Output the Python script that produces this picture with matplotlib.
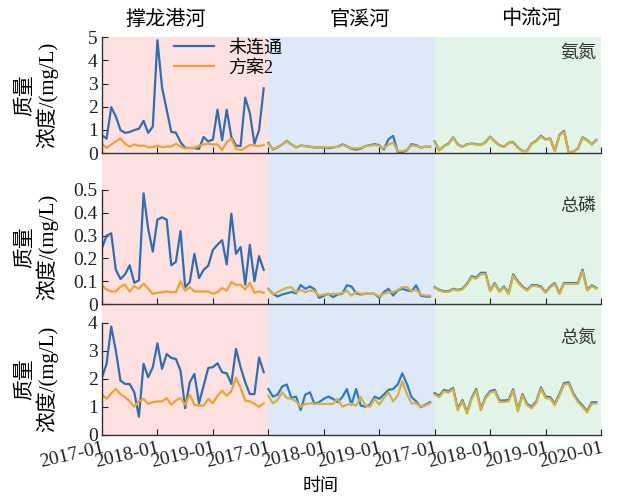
import matplotlib
matplotlib.use('Agg')
import matplotlib.pyplot as plt
import numpy as np

plt.rcParams['font.family'] = ['Liberation Serif', 'Noto Sans CJK SC']
plt.rcParams['axes.unicode_minus'] = False

rivers = ['撑龙港河', '官溪河', '中流河']
tick_labels = ['2017-01', '2018-01', '2019-01', '2017-01', '2018-01', '2019-01',
               '2017-01', '2018-01', '2019-01', '2020-01']

# 氨氮 (mg/L), 36 months per river
nh3_base_1 = [0.77, 0.62, 1.98, 1.58, 0.99, 0.87, 0.91, 0.99, 1.05, 1.39, 0.87, 1.14,
              4.87, 2.83, 1.87, 0.91, 0.88, 0.47, 0.22, 0.22, 0.21, 0.18, 0.69, 0.50,
              0.58, 1.87, 0.55, 1.87, 0.69, 0.32, 0.30, 2.39, 1.73, 0.40, 0.99, 2.79]
nh3_plan_1 = [0.40, 0.22, 0.37, 0.50, 0.62, 0.40, 0.28, 0.37, 0.31, 0.32, 0.25, 0.25,
              0.32, 0.25, 0.28, 0.28, 0.40, 0.28, 0.19, 0.22, 0.22, 0.32, 0.37, 0.40,
              0.37, 0.37, 0.13, 0.47, 0.62, 0.18, 0.13, 0.22, 0.35, 0.32, 0.30, 0.35]
nh3_base_2 = [0.44, 0.15, 0.24, 0.37, 0.52, 0.37, 0.24, 0.32, 0.30, 0.27, 0.24, 0.24,
              0.24, 0.21, 0.24, 0.27, 0.37, 0.30, 0.18, 0.15, 0.19, 0.30, 0.34, 0.38,
              0.34, 0.15, 0.59, 0.74, 0.06, 0.03, 0.12, 0.38, 0.34, 0.24, 0.27, 0.27]
nh3_plan_2 = [0.40, 0.17, 0.25, 0.36, 0.50, 0.36, 0.25, 0.32, 0.29, 0.27, 0.26, 0.24,
              0.25, 0.24, 0.25, 0.27, 0.34, 0.30, 0.21, 0.20, 0.22, 0.29, 0.32, 0.34,
              0.32, 0.20, 0.36, 0.45, 0.09, 0.08, 0.14, 0.33, 0.31, 0.25, 0.27, 0.28]
nh3_base_3 = [0.50, 0.12, 0.30, 0.41, 0.68, 0.38, 0.27, 0.38, 0.41, 0.38, 0.35, 0.47,
              0.71, 0.50, 0.34, 0.27, 0.44, 0.47, 0.24, 0.09, 0.09, 0.41, 0.53, 0.74,
              0.59, 0.63, 0.09, 0.78, 0.96, 0.03, 0.06, 0.19, 0.68, 0.56, 0.38, 0.56]
nh3_plan_3 = [0.48, 0.11, 0.29, 0.39, 0.66, 0.36, 0.26, 0.37, 0.39, 0.37, 0.34, 0.45,
              0.69, 0.48, 0.33, 0.26, 0.42, 0.45, 0.23, 0.08, 0.08, 0.39, 0.51, 0.71,
              0.57, 0.61, 0.08, 0.75, 0.92, 0.03, 0.05, 0.18, 0.65, 0.54, 0.37, 0.54]

# 总磷 (mg/L)
tp_base_1 = [0.245, 0.30, 0.31, 0.15, 0.11, 0.13, 0.17, 0.093, 0.104, 0.485, 0.33, 0.23,
             0.37, 0.38, 0.37, 0.17, 0.185, 0.32, 0.074, 0.096, 0.22, 0.114, 0.15, 0.168,
             0.237, 0.26, 0.28, 0.174, 0.396, 0.22, 0.25, 0.085, 0.26, 0.10, 0.21, 0.15]
tp_plan_1 = [0.080, 0.064, 0.055, 0.055, 0.077, 0.085, 0.055, 0.079, 0.067, 0.089, 0.067, 0.045,
             0.049, 0.052, 0.055, 0.052, 0.052, 0.100, 0.059, 0.074, 0.055, 0.055, 0.055, 0.055,
             0.045, 0.052, 0.070, 0.059, 0.096, 0.085, 0.085, 0.064, 0.093, 0.049, 0.055, 0.049]
tp_base_2 = [0.067, 0.045, 0.033, 0.042, 0.047, 0.053, 0.047, 0.083, 0.067, 0.077, 0.065, 0.027,
             0.036, 0.045, 0.030, 0.042, 0.045, 0.082, 0.077, 0.047, 0.042, 0.045, 0.045, 0.045,
             0.027, 0.052, 0.067, 0.037, 0.060, 0.067, 0.060, 0.056, 0.082, 0.037, 0.033, 0.033]
tp_plan_2 = [0.067, 0.042, 0.052, 0.062, 0.071, 0.074, 0.052, 0.062, 0.052, 0.059, 0.056, 0.037,
             0.042, 0.042, 0.045, 0.045, 0.047, 0.059, 0.037, 0.053, 0.045, 0.045, 0.045, 0.045,
             0.033, 0.045, 0.052, 0.052, 0.062, 0.074, 0.074, 0.056, 0.062, 0.042, 0.037, 0.037]
tp_base_3 = [0.074, 0.062, 0.056, 0.056, 0.067, 0.062, 0.067, 0.089, 0.122, 0.116, 0.137, 0.137,
             0.059, 0.092, 0.056, 0.077, 0.047, 0.130, 0.100, 0.077, 0.062, 0.083, 0.083, 0.077,
             0.052, 0.077, 0.092, 0.047, 0.092, 0.092, 0.092, 0.092, 0.151, 0.062, 0.082, 0.071]
tp_plan_3 = [0.071, 0.059, 0.053, 0.053, 0.064, 0.059, 0.064, 0.085, 0.117, 0.111, 0.131, 0.131,
             0.056, 0.088, 0.053, 0.073, 0.044, 0.124, 0.095, 0.073, 0.059, 0.079, 0.079, 0.073,
             0.049, 0.073, 0.088, 0.044, 0.088, 0.088, 0.088, 0.088, 0.144, 0.059, 0.078, 0.068]

# 总氮 (mg/L)
tn_base_1 = [2.06, 2.54, 3.87, 3.01, 1.94, 1.82, 1.82, 1.52, 0.65, 2.54, 2.06, 2.42,
             3.27, 2.36, 2.89, 2.75, 2.71, 2.30, 0.96, 1.88, 2.18, 1.13, 1.76, 2.39,
             2.42, 2.56, 2.24, 2.20, 1.82, 3.07, 2.42, 1.88, 1.46, 1.46, 2.77, 2.24]
tn_plan_1 = [1.44, 1.29, 1.49, 1.64, 1.46, 1.35, 1.20, 1.01, 1.20, 1.29, 1.11, 1.17,
             1.20, 1.20, 1.32, 1.08, 1.23, 1.32, 1.08, 1.44, 1.08, 1.05, 1.05, 1.29,
             1.13, 1.40, 1.58, 1.40, 1.56, 2.04, 1.68, 1.23, 1.20, 1.11, 1.01, 1.13]
tn_base_2 = [1.64, 1.37, 1.44, 1.73, 1.80, 1.32, 1.37, 0.89, 1.44, 1.52, 1.11, 1.17,
             1.29, 1.37, 1.29, 1.17, 1.35, 1.64, 1.08, 1.64, 1.05, 1.01, 1.08, 1.37,
             1.29, 1.44, 1.61, 1.64, 1.80, 2.20, 1.82, 1.35, 1.20, 0.99, 1.08, 1.17]
tn_plan_2 = [1.40, 1.13, 1.25, 1.52, 1.32, 1.29, 1.20, 1.01, 1.11, 1.13, 1.11, 1.11,
             1.11, 1.11, 1.11, 1.29, 1.01, 1.08, 1.11, 1.05, 1.35, 1.05, 1.01, 1.29,
             1.08, 1.32, 1.52, 1.20, 1.40, 1.92, 1.46, 1.13, 1.13, 1.01, 1.05, 1.13]
tn_base_3 = [1.49, 1.40, 1.61, 1.56, 1.68, 0.93, 1.25, 0.81, 1.32, 1.64, 0.93, 1.35,
             1.56, 1.61, 1.23, 1.23, 1.25, 1.63, 0.89, 1.46, 1.11, 1.01, 1.20, 1.70,
             1.37, 1.35, 1.11, 1.46, 1.85, 1.88, 1.49, 1.23, 1.05, 0.85, 1.17, 1.17]
tn_plan_3 = [1.44, 1.35, 1.56, 1.51, 1.63, 0.88, 1.20, 0.76, 1.27, 1.59, 0.88, 1.30,
             1.51, 1.56, 1.18, 1.18, 1.20, 1.58, 0.84, 1.41, 1.06, 0.96, 1.15, 1.65,
             1.32, 1.30, 1.06, 1.41, 1.80, 1.83, 1.44, 1.18, 1.00, 0.80, 1.12, 1.12]

panels = [
    ('氨氮', [nh3_base_1, nh3_base_2, nh3_base_3], [nh3_plan_1, nh3_plan_2, nh3_plan_3],
     (0, 5), [0, 1, 2, 3, 4, 5], ['0', '1', '2', '3', '4', '5']),
    ('总磷', [tp_base_1, tp_base_2, tp_base_3], [tp_plan_1, tp_plan_2, tp_plan_3],
     (0, 0.5), [0, 0.1, 0.2, 0.3, 0.4, 0.5], ['0', '0.1', '0.2', '0.3', '0.4', '0.5']),
    ('总氮', [tn_base_1, tn_base_2, tn_base_3], [tn_plan_1, tn_plan_2, tn_plan_3],
     (0, 4), [0, 1, 2, 3, 4], ['0', '1', '2', '3', '4']),
]

bg_colors = ['#fde1e1', '#dde8f8', '#e1f4e7']
blue = ['#2f6eb4', '#2a7cc4', '#2a7cc4']
orange = ['#f0a22c', '#d7b13c', '#d7b13c']

fig = plt.figure(figsize=(6.18, 4.96), dpi=100)
left, width = 0.165, 0.8075
boxes = [(0.6915, 0.2335), (0.387, 0.230), (0.123, 0.226)]

# shared background bands
bg = fig.add_axes([left, 0.121, width, 0.925 - 0.121], zorder=0)
for i in range(3):
    bg.axvspan(i * 36, (i + 1) * 36, color=bg_colors[i], lw=0)
bg.set_xlim(0, 108)
bg.axis('off')

for k, (name, base, plan, ylim, yt, ytl) in enumerate(panels):
    b, h = boxes[k]
    ax = fig.add_axes([left, b, width, h], zorder=1)
    ax.patch.set_alpha(0)
    for i in range(3):
        x = np.arange(36) + i * 36
        l1, = ax.plot(x, base[i], color=blue[i], lw=1.6)
        l2, = ax.plot(x, plan[i], color=orange[i], lw=1.6)
        if i == 0:
            h1, h2 = l1, l2
    ax.set_xlim(0, 108)
    ax.set_ylim(*ylim)
    ax.set_yticks(yt)
    ax.set_yticklabels(ytl)
    ax.set_xticks(np.arange(0, 109, 12))
    if k == 2:
        ax.set_xticklabels(tick_labels, rotation=13, ha='right', rotation_mode='anchor',
                           fontsize=14)
    else:
        ax.set_xticklabels([])
    for s in ['top', 'right']:
        ax.spines[s].set_visible(False)
    for s in ['left', 'bottom']:
        ax.spines[s].set_color('#333333')
        ax.spines[s].set_linewidth(1.0)
    ax.tick_params(direction='in', length=4, labelsize=14, colors='#222222', pad=3)
    ax.set_ylabel('质量\n浓度/(mg/L)', fontsize=15, linespacing=1.0)
    ax.yaxis.set_label_coords(-0.088, 0.5)
    ax.text(0.99, 0.86, name, transform=ax.transAxes, ha='right', va='center',
            fontsize=13, color='#333333')
    if k == 0:
        ax.legend([h1, h2], ['未连通', '方案2'], loc='upper left', frameon=False,
                  bbox_to_anchor=(0.13, 1.04), fontsize=13, handlelength=2.2,
                  labelspacing=0.15, borderaxespad=0)

title_x = [166, 360, 531]
for t, xp in zip(rivers, title_x):
    fig.text(xp / 618, 1 - 20 / 496, t, ha='center', va='center', fontsize=14.5)
fig.text(321 / 618, 1 - 487 / 496, '时间', ha='center', va='center', fontsize=13)

fig.savefig('out.png', dpi=100)
